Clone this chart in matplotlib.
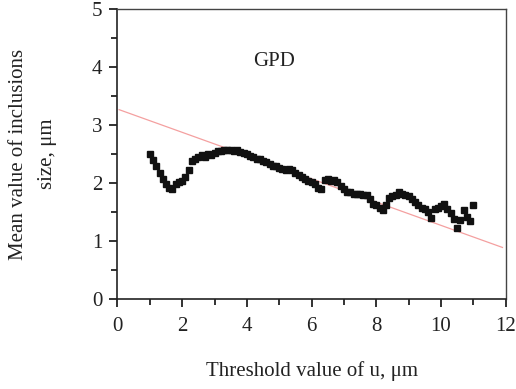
import numpy as np
import matplotlib
matplotlib.use("Agg")
from matplotlib import pyplot as plt
from matplotlib.ticker import MultipleLocator

# threshold values (um) and mean inclusion size
threshold = [1.0, 1.1, 1.2, 1.3, 1.4, 1.5, 1.6, 1.7, 1.8, 1.9,
             2.0, 2.1, 2.2, 2.3, 2.4, 2.5, 2.6, 2.7, 2.8, 2.9,
             3.0, 3.1, 3.2, 3.3, 3.4, 3.5, 3.6, 3.7, 3.8, 3.9,
             4.0, 4.1, 4.2, 4.3, 4.4, 4.5, 4.6, 4.7, 4.8, 4.9,
             5.0, 5.1, 5.2, 5.3, 5.4, 5.5, 5.6, 5.7, 5.8, 5.9,
             6.0, 6.1, 6.2, 6.3, 6.4, 6.5, 6.6, 6.7, 6.8, 6.9,
             7.0, 7.1, 7.2, 7.3, 7.4, 7.5, 7.6, 7.7, 7.8, 7.9,
             8.0, 8.1, 8.2, 8.3, 8.4, 8.5, 8.6, 8.7, 8.8, 8.9,
             9.0, 9.1, 9.2, 9.3, 9.4, 9.5, 9.6, 9.7, 9.8, 9.9,
             10.0, 10.1, 10.2, 10.3, 10.4, 10.5, 10.6, 10.7, 10.8, 10.9,
             11.0]
mean_size = [2.50, 2.40, 2.30, 2.18, 2.08, 1.98, 1.92, 1.90, 1.98, 2.02,
             2.04, 2.10, 2.22, 2.38, 2.42, 2.45, 2.48, 2.46, 2.50, 2.48,
             2.52, 2.55, 2.56, 2.58, 2.57, 2.58, 2.56, 2.57, 2.54, 2.52,
             2.50, 2.47, 2.45, 2.42, 2.42, 2.38, 2.36, 2.34, 2.30, 2.30,
             2.26, 2.24, 2.22, 2.24, 2.22, 2.18, 2.14, 2.10, 2.08, 2.04,
             2.02, 1.98, 1.92, 1.90, 2.06, 2.08, 2.04, 2.05, 2.02, 1.96,
             1.90, 1.85, 1.85, 1.82, 1.82, 1.82, 1.80, 1.80, 1.72, 1.64,
             1.62, 1.58, 1.54, 1.62, 1.74, 1.78, 1.80, 1.84, 1.82, 1.80,
             1.78, 1.72, 1.68, 1.62, 1.58, 1.56, 1.50, 1.40, 1.56, 1.58,
             1.60, 1.64, 1.56, 1.48, 1.38, 1.22, 1.36, 1.54, 1.42, 1.34,
             1.62]

# linear fit line end points
fit_x = [0.05, 11.9]
fit_y = [3.27, 0.89]

plt.rcParams['font.family'] = ['Liberation Serif', 'DejaVu Serif']

fig = plt.figure(figsize=(5.16, 3.89), dpi=100)
ax = fig.add_axes([0.2277, 0.2314, 0.7523, 0.7442])

ax.plot(fit_x, fit_y, color='#f4a0a0', linewidth=0.9, zorder=2)
ax.plot(threshold, mean_size, linestyle='none', marker='s', markersize=4.0,
        color='#111111', zorder=3)

ax.set_xlim(0, 12)
ax.set_ylim(0, 5)
ax.xaxis.set_major_locator(MultipleLocator(2))
ax.xaxis.set_minor_locator(MultipleLocator(1))
ax.yaxis.set_major_locator(MultipleLocator(1))
ax.yaxis.set_minor_locator(MultipleLocator(0.5))
ax.tick_params(which='major', direction='out', length=6, width=1.3,
               labelsize=15, colors='#222222', pad=5)
ax.tick_params(axis='x', which='major', pad=7)
ax.tick_params(which='minor', direction='out', length=4, width=1.3, colors='#222222')
for side in ['left', 'bottom']:
    ax.spines[side].set_linewidth(1.2)
    ax.spines[side].set_color('#222222')
for side in ['top', 'right']:
    ax.spines[side].set_linewidth(1.0)
    ax.spines[side].set_color('#444444')

ax.text(4.84, 4.11, 'GPD', fontsize=15, ha='center', va='center', color='#222222')

ax.set_xlabel('Threshold value of u, μm', fontsize=15, color='#222222', labelpad=18)
ax.set_ylabel('Mean value of inclusions\nsize, μm', fontsize=15, color='#222222',
              labelpad=25, linespacing=1.7)

plt.savefig('out.png', dpi=100)
